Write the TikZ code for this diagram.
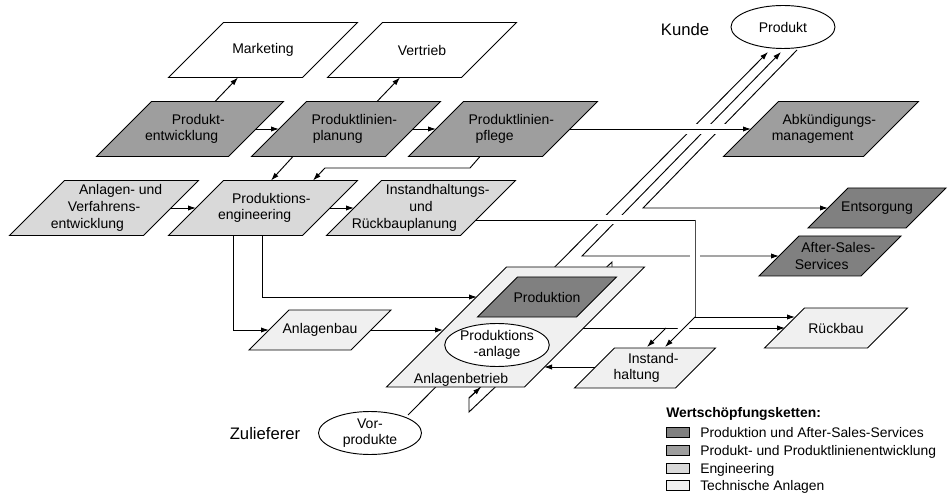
\documentclass[tikz,border=0pt]{standalone}
\usepackage{fontspec}
\setmainfont{Liberation Sans}
\usetikzlibrary{shapes.geometric,arrows.meta}

\definecolor{cdark}{gray}{0.5}
\definecolor{cmed}{gray}{0.62}
\definecolor{clight}{gray}{0.85}
\definecolor{cpale}{gray}{0.94}

\tikzset{
  conn/.style={line width=0.7pt, draw=black},
  arr/.style={conn, -{Latex[length=6pt,width=4pt]}},
  lbl/.style={font=\fontsize{10.5}{12.5}\selectfont, align=center, inner sep=0pt},
  ell/.style={draw, ellipse, fill=white, line width=0.7pt, lbl},
  whitegap/.style={draw=white, line width=#1},
  big/.style={font=\fontsize{12.5}{15}\selectfont, inner sep=0pt},
  legbox/.style={draw, line width=0.7pt, minimum width=17.25pt, minimum height=7.5pt, inner sep=0pt},
  legtxt/.style={font=\fontsize{10.4}{12.5}\selectfont, anchor=base west, inner sep=0pt}
}

% name, cx, cy, w, h, fill, text
\newcommand\pgbox[7]{%
  \filldraw[fill=#6, draw=black, line width=0.7pt]
    ({#2-#4/2+#5/2},{#3-#5/2}) -- ++(#4,0) -- ++(-#5,#5) -- ++(-#4,0) -- cycle;
  \node[lbl] (#1) at (#2,#3) {#7};
}

\begin{document}
\begin{tikzpicture}[x=0.75pt,y=-0.75pt]
\useasboundingbox (0,0) rectangle (949,495);

% ---------- connector end points ----------
\coordinate (l1a) at (408,415);
\coordinate (l1b) at (768,52);
\coordinate (l2a) at (781,52);
\coordinate (l2c) at (582,256);
\coordinate (l2b) at (779,256);
\coordinate (l3a) at (797,50);
\coordinate (l3c) at (643,208);
\coordinate (l3b) at (828,208);

% ---------- diagonal product lines ----------
\draw[arr] (l1a) -- (l1b);
\draw[conn, {Latex[length=6pt,width=4pt]}-{Latex[length=6pt,width=4pt]}] (l2a) -- (l2c) -- (l2b);
\draw[arr] (l3a) -- (l3c) -- (l3b);

% gaps where horizontal lines cross
\draw[whitegap=7.5pt] (675,129) -- (740,129);
\draw[whitegap=6.75pt] (592,220) -- (628,220);
\draw[whitegap=7.5pt] (695,249) -- (695,263);

% ---------- top rows ----------
\pgbox{mk}{263}{50}{134}{55}{white}{Marketing}
\pgbox{vt}{422}{50}{134}{55}{white}{Vertrieb}
\pgbox{pe}{190}{129}{132}{55}{cmed}{\hspace*{12.5pt}Produkt-\\\hspace*{-12.5pt}entwicklung}
\pgbox{plp}{346}{129}{134}{55}{cmed}{\hspace*{12.5pt}Produktlinien-\\\hspace*{-12.5pt}planung}
\pgbox{plf}{503}{129}{134}{55}{cmed}{\hspace*{12.5pt}Produktlinien-\\\hspace*{-12.5pt}pflege}
\pgbox{ak}{821}{129}{140}{55}{cmed}{\hspace*{12.5pt}Abkündigungs-\\\hspace*{-12.5pt}management}
\pgbox{av}{104}{208}{134}{55}{clight}{\hspace*{25pt}Anlagen- und\\Verfahrens-\\\hspace*{-25pt}entwicklung}
\pgbox{pen}{263}{208}{134}{55}{clight}{\hspace*{12.5pt}Produktions-\\\hspace*{-12.5pt}engineering}
\pgbox{irp}{421}{208}{134}{55}{clight}{\hspace*{25pt}Instandhaltungs-\\und\\\hspace*{-25pt}Rückbauplanung}
\pgbox{ent}{877}{208}{98}{40}{cdark}{Entsorgung}
\pgbox{ass}{830}{256}{102}{40}{cdark}{\hspace*{12.5pt}After-Sales-\\\hspace*{-12.5pt}Services}
\pgbox{rb}{836}{328}{103}{40}{cpale}{Rückbau}
\pgbox{ih}{645}{368}{101}{40}{cpale}{\hspace*{12.5pt}Instand-\\\hspace*{-12.5pt}haltung}
\pgbox{ab}{320}{330}{102}{40}{cpale}{Anlagenbau}

% ---------- thin band behind Anlagenbetrieb ----------
\coordinate (tb1) at (469,398);
\coordinate (tb2) at (469,412);
\coordinate (tb3) at (612,276);
\coordinate (tb4) at (612,262);
\filldraw[fill=white, conn] (tb1) -- (tb2) -- (tb3) -- (tb4) -- cycle;

% ---------- Anlagenbetrieb ----------
\pgbox{abt}{515.5}{327}{138}{120}{cpale}{}
\pgbox{prd}{547}{297}{99}{40}{cdark}{Produktion}
\node[ell, minimum width=77.25pt, minimum height=32.25pt] (pa) at (497,345) {Produktions\\-anlage};
\node[lbl, anchor=base] (abtt) at (461,383) {Anlagenbetrieb};
\coordinate (tbe) at (481,387);
\draw[arr] (tb1) -- (tbe);

% ---------- ellipses and actors ----------
\node[ell, minimum width=78pt, minimum height=32.25pt] (pk) at (783,27) {Produkt};
\node[ell, minimum width=77.25pt, minimum height=32.25pt] (vp) at (370,433) {Vor-\\produkte};
\node[big] (kunde) at (685,30) {Kunde};
\node[big] (zul) at (265,434) {Zulieferer};

% ---------- connector coordinates ----------
\coordinate (a1s) at (215,101.5); \coordinate (a1e) at (238,77.5);
\coordinate (a2s) at (377,101.5); \coordinate (a2e) at (400,77.5);
\coordinate (a3s) at (256,129);   \coordinate (a3e) at (279,129);
\coordinate (a4s) at (413,129);   \coordinate (a4e) at (436,129);
\coordinate (a5s) at (570,129);   \coordinate (a5e) at (751,129);
\coordinate (a6s) at (293,156.5); \coordinate (a6e) at (271,180.5);
\coordinate (a7s) at (480,156.5); \coordinate (a7b) at (470,168);
\coordinate (a7c) at (325,168);   \coordinate (a7e) at (313,180.5);
\coordinate (a8s) at (171,208);   \coordinate (a8e) at (196,208);
\coordinate (a9s) at (330,208);   \coordinate (a9e) at (354,208);
\coordinate (b1s) at (233,235.5); \coordinate (b1c) at (233,330); \coordinate (b1e) at (269,330);
\coordinate (b2s) at (262,235.5); \coordinate (b2c) at (262,297); \coordinate (b2e) at (477,297);
\coordinate (b3s) at (371,330);   \coordinate (b3e) at (443,330);
\coordinate (b4s) at (595,367);   \coordinate (b4e) at (544,367);
\coordinate (c1s) at (476,220);   \coordinate (c1c) at (695,220);
\coordinate (c1d) at (695,317);   \coordinate (c1e) at (795,317);
\coordinate (c2e) at (665,347);
\coordinate (d1s) at (583,328);   \coordinate (d1e) at (785,328);
\coordinate (d2s) at (666,328);   \coordinate (d2e) at (647,347);

% ---------- connectors ----------
\draw[arr] (a1s) -- (a1e);
\draw[arr] (a2s) -- (a2e);
\draw[arr] (a3s) -- (a3e);
\draw[arr] (a4s) -- (a4e);
\draw[arr] (a5s) -- (a5e);
\draw[arr] (a6s) -- (a6e);
\draw[arr] (a7s) -- (a7b) -- (a7c) -- (a7e);
\draw[arr] (a8s) -- (a8e);
\draw[arr] (a9s) -- (a9e);
\draw[arr] (b1s) -- (b1c) -- (b1e);
\draw[arr] (b2s) -- (b2c) -- (b2e);
\draw[arr] (b3s) -- (b3e);
\draw[arr] (b4s) -- (b4e);
\draw[conn] (c1s) -- (c1c);
\draw[conn, draw=black!70] (c1c) -- (c1d);
\draw[arr] (c1d) -- (c1e);
\draw[arr] (d1s) -- (d1e);
\draw[whitegap=6pt] (691,321) -- (677,335);
\draw[arr] (c1d) -- (c2e);
\draw[arr] (d2s) -- (d2e);

% ---------- legend ----------
\node[font=\fontsize{10.4}{12.5}\selectfont\bfseries, anchor=base west, inner sep=0pt] (lgt) at (666,417) {Wertschöpfungsketten:};
\node[legbox, fill=cdark]  (lg1) at (677.5,432) {};
\node[legbox, fill=cmed]   (lg2) at (677.5,450) {};
\node[legbox, fill=clight] (lg3) at (677.5,468) {};
\node[legbox, fill=cpale]  (lg4) at (677.5,485) {};
\node[legtxt] (lg1t) at (700,437) {Produktion und After-Sales-Services};
\node[legtxt] (lg2t) at (700,455) {Produkt- und Produktlinienentwicklung};
\node[legtxt] (lg3t) at (700,473) {Engineering};
\node[legtxt] (lg4t) at (700,490) {Technische Anlagen};
\end{tikzpicture}
\end{document}
